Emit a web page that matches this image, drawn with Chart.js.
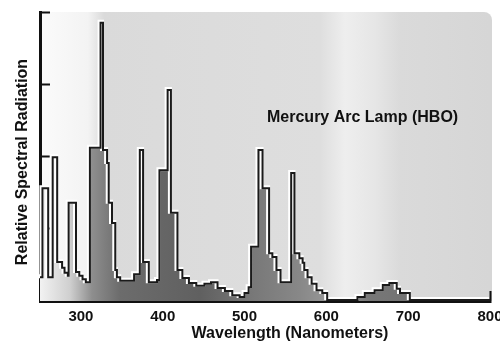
<!DOCTYPE html>
<html><head><meta charset="utf-8">
<script src="https://cdn.jsdelivr.net/npm/chart.js@4"></script>
<style>html,body{margin:0;padding:0;background:#fff;overflow:hidden}</style>
</head><body>
<canvas id="c" width="500" height="341"></canvas>
<script>
// wavelength (nm) where each step of the spectrum begins
const wavelengths = [250,253,260,265.5,271,277,280,284,285,294,298,302,306,311,324,327,332,334,338,342,344,348,365,372,376,383,393,396,406,410,418,424,432,441,451,459,467,476,485,494,500,505,508,517,522,530,534,539,544,557,561,567,571,573,577,582,588,595,601,638,647,659,669,677,686,690,702,800];
// relative spectral radiation for each step
const radiation   = [0.33,1.56,0.33,1.99,0.54,0.46,0.39,0.35,1.36,0.40,0.35,0.30,0.26,2.12,3.85,2.09,1.91,1.36,1.08,0.43,0.33,0.28,0.37,2.09,0.54,0.26,0.29,1.81,2.92,1.22,0.43,0.32,0.25,0.21,0.24,0.26,0.18,0.14,0.08,0.055,0.11,0.19,0.75,2.09,1.56,0.66,0.61,0.43,0.26,1.77,0.66,0.59,0.53,0.43,0.33,0.24,0.15,0.11,0.014,0.055,0.11,0.15,0.22,0.25,0.17,0.11,0.014,0.014];
const xTickValues = [300,400,500,600,700,800];
const yTickValues = [0,1,2,3,4];
const chartLabel = 'Mercury Arc Lamp (HBO)';
const xTitle = 'Wavelength (Nanometers)';
const yTitle = 'Relative Spectral Radiation';

const points = wavelengths.map((w, i) => ({x: w, y: radiation[i]}));
const FONT = '"Liberation Sans", Arial, Helvetica, sans-serif';

function addStops(g, a, stops) {
  const w = a.right - a.left;
  stops.forEach(([px, c]) => g.addColorStop(Math.min(1, Math.max(0, (px - a.left) / w)), c));
}

function fillGradient(context) {
  const chart = context.chart, a = chart.chartArea;
  if (!a) return '#888';
  const g = chart.ctx.createLinearGradient(a.left, 0, a.right, 0);
  addStops(g, a, [[40,'#f2f2f2'],[70,'#cfcfcf'],[92,'#8e8e8e'],[120,'#6c6c6c'],[200,'#606060'],[250,'#777777'],[300,'#888888'],[335,'#9a9a9a'],[370,'#777777'],[420,'#727272'],[490,'#808080']]);
  return g;
}

const backdrop = {
  id: 'backdrop',
  beforeDraw(chart) {
    const {ctx, chartArea: a} = chart;
    ctx.save();
    const g = ctx.createLinearGradient(a.left, 0, a.right, 0);
    addStops(g, a, [[40,'#fbfbfb'],[88,'#f3f3f3'],[104,'#dadada'],[320,'#dedede'],[345,'#eeeeee'],[375,'#e6e6e6'],[400,'#dadada'],[490,'#d6d6d6']]);
    ctx.fillStyle = g;
    ctx.beginPath();
    if (ctx.roundRect) ctx.roundRect(a.left, a.top, a.right - a.left + 2, a.bottom - a.top, [0, 8, 0, 0]);
    else ctx.rect(a.left, a.top, a.right - a.left + 2, a.bottom - a.top);
    ctx.fill();
    ctx.restore();
  }
};

const haloShift = {
  id: 'haloShift',
  beforeDatasetDraw(chart, args) { if (args.index === 1) { chart.ctx.save(); chart.ctx.translate(-1, -1); } },
  afterDatasetDraw(chart, args) { if (args.index === 1) chart.ctx.restore(); }
};

const texts = {
  id: 'texts',
  afterDraw(chart) {
    const ctx = chart.ctx;
    ctx.save();
    ctx.fillStyle = '#111';
    ctx.font = 'bold 16px ' + FONT;
    ctx.textBaseline = 'alphabetic';
    ctx.textAlign = 'center';
    ctx.fillText(xTitle, 290, 338);
    ctx.save();
    ctx.translate(27, 162);
    ctx.rotate(-Math.PI / 2);
    ctx.fillText(yTitle, 0, 0);
    ctx.restore();
    ctx.textAlign = 'left';
    ctx.fillText(chartLabel, 267, 122);
    ctx.restore();
  }
};

new Chart(document.getElementById('c'), {
  type: 'line',
  data: {
    datasets: [
      { data: points, stepped: true, borderColor: '#1a1a1a', borderWidth: 2, pointRadius: 0, fill: false, order: 0, borderJoinStyle: 'miter' },
      { data: points, stepped: true, borderColor: '#ffffff', borderWidth: 4, pointRadius: 0, fill: 'origin', backgroundColor: fillGradient, order: 1, borderJoinStyle: 'miter' }
    ]
  },
  options: {
    responsive: false,
    animation: false,
    devicePixelRatio: 1,
    events: [],
    layout: { padding: { top: 12, right: 10, left: 0, bottom: 0 } },
    plugins: { legend: { display: false }, tooltip: { enabled: false }, title: { display: false } },
    scales: {
      x: {
        type: 'linear', min: 250, max: 800, position: 'bottom',
        afterBuildTicks: s => { s.ticks = xTickValues.map(v => ({value: v})); },
        afterFit: s => { s.height = 40; s.paddingLeft = 0; s.paddingRight = 0; },
        grid: { drawOnChartArea: false, drawTicks: true, tickLength: -10, tickWidth: 2, tickColor: '#111' },
        border: { display: true, color: '#111', width: 3 },
        ticks: { autoSkip: false, maxRotation: 0, minRotation: 0, padding: 17, color: '#111', font: { family: FONT, size: 15, weight: 'bold' } }
      },
      y: {
        type: 'linear', min: 0, max: 4, position: 'left',
        afterBuildTicks: s => { s.ticks = yTickValues.map(v => ({value: v})); },
        afterFit: s => { s.width = 40; s.paddingTop = 0; s.paddingBottom = 0; },
        grid: { drawOnChartArea: false, drawTicks: true, tickLength: -10, tickWidth: 2, tickColor: '#111' },
        border: { display: true, color: '#111', width: 3 },
        ticks: { display: false }
      }
    }
  },
  plugins: [backdrop, haloShift, texts]
});
</script>
</body></html>
